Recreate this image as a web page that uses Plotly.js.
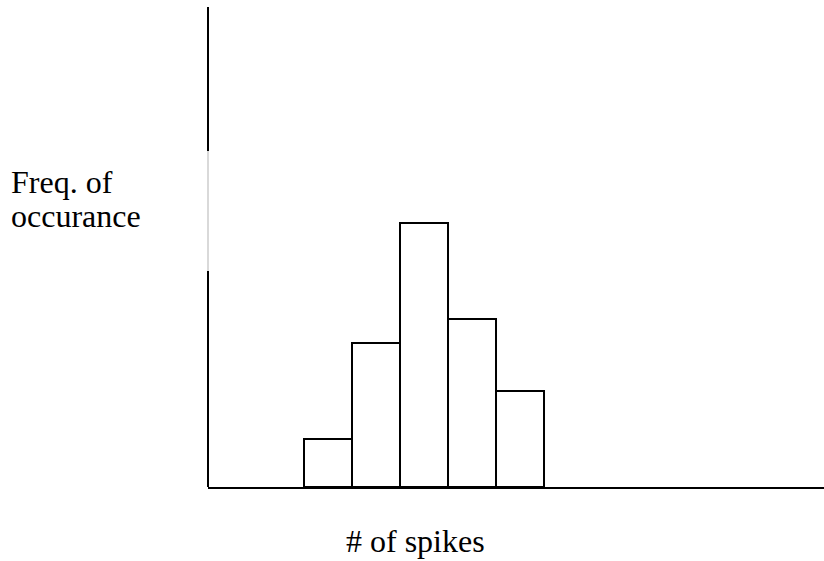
<!DOCTYPE html>
<html>
<head>
<meta charset="utf-8">
<script src="https://cdn.plot.ly/plotly-3.0.1.min.js"></script>
<style>html,body{margin:0;padding:0;background:#fff;}#chart{width:824px;height:561px;}</style>
</head>
<body>
<div id="chart"></div>
<script>
// Histogram: bin centres (# of spikes) and frequency of occurrence
var binCenters = [2.5, 3.5, 4.5, 5.5, 6.5];
var frequencies = [2, 6, 11, 7, 4];
var xLabel = "# of spikes";
var yLabelLines = ["Freq. of", "occurance"];
var yAxisSolidLow = [0, 9];
var yAxisGap = [9, 14];
var yAxisSolidHigh = [14, 20];

var trace = {
  type: "bar",
  x: binCenters,
  y: frequencies,
  width: 1,
  marker: {color: "#ffffff", line: {color: "#000000", width: 2}},
  hoverinfo: "none"
};

function vseg(r, color) {
  return {type: "line", xref: "paper", yref: "y", x0: 0, x1: 0, y0: r[0], y1: r[1],
          line: {color: color, width: 2}, layer: "above"};
}

var font = {family: "Liberation Serif, Times New Roman, serif", size: 32, color: "#000"};
var plotTop = 7, plotH = 480, plotL = 208, plotW = 616;
function py(pix) { return (plotTop + plotH - pix) / plotH; }
function px(pix) { return (pix - plotL) / plotW; }

var layout = {
  width: 824, height: 561,
  margin: {l: 208, r: 0, t: 7, b: 74, pad: 0},
  paper_bgcolor: "#fff", plot_bgcolor: "#fff",
  showlegend: false,
  bargap: 0,
  xaxis: {range: [0, 12.833], showline: true, linecolor: "#000", linewidth: 2,
          showgrid: false, zeroline: false, ticks: "", showticklabels: false, fixedrange: true},
  yaxis: {range: [0, 20], showline: false, showgrid: false, zeroline: false,
          ticks: "", showticklabels: false, fixedrange: true},
  shapes: [vseg(yAxisSolidLow, "#000"), vseg(yAxisGap, "#d9d9d9"), vseg(yAxisSolidHigh, "#000")],
  annotations: [
    {text: yLabelLines[0], xref: "paper", yref: "paper", x: px(9), y: py(182),
     xanchor: "left", yanchor: "middle", showarrow: false, font: font},
    {text: yLabelLines[1], xref: "paper", yref: "paper", x: px(9), y: py(216),
     xanchor: "left", yanchor: "middle", showarrow: false, font: font},
    {text: xLabel, xref: "paper", yref: "paper", x: px(415), y: py(541),
     xanchor: "center", yanchor: "middle", showarrow: false, font: font}
  ]
};

Plotly.newPlot("chart", [trace], layout, {staticPlot: true, displayModeBar: false});
</script>
</body>
</html>
